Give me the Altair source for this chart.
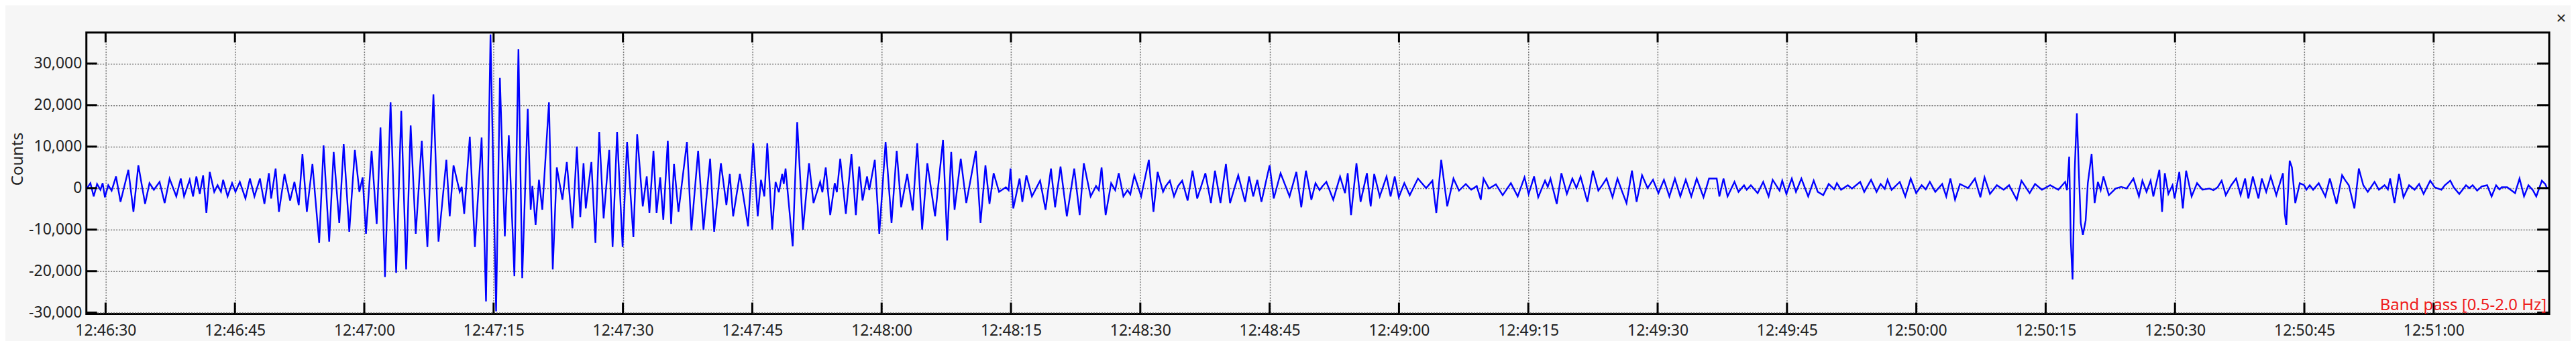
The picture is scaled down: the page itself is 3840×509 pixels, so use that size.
import altair as alt
import pandas as pd

# ---- waveform extremes: seconds after 12:46:30, counts ----
TIME_S = [
    -2.23, -2.15, -1.76, -1.38, -0.99, -0.6, -0.34, -0.08, 0.31, 0.70, 1.21, 1.73, 2.64, 3.23, 3.80, 4.58,
    5.09, 5.6, 6.26, 6.85, 7.42, 8.2, 8.72, 9.1, 9.75, 10.14, 10.53, 10.92, 11.31, 11.69, 12.08, 12.6,
    12.99, 13.38, 13.63, 14.15, 14.67, 15.06, 15.57, 16.22, 16.74, 17.26, 17.9, 18.42, 18.94, 19.2, 19.72,
    20.1, 20.75, 21.4, 21.9, 22.4,
    22.83, 23.34, 23.99, 24.77, 25.28, 25.93, 26.45, 27.10, 27.61, 28.26, 28.91, 29.43, 29.81, 30.2, 30.85,
    31.44, 31.88, 32.4, 33.05, 33.7, 34.29, 34.86, 35.38, 35.97, 36.67, 37.32, 38.02, 38.61, 39.52, 39.91,
    40.35, 41.07, 41.3, 41.59, 42.24, 42.83, 43.61, 44.12, 44.64, 45.29, 45.73, 46.3, 46.76, 47.41, 47.88,
    48.32, 48.96, 49.3, 49.5, 49.87, 50.26, 50.65, 51.42, 51.86, 52.33, 52.98, 53.49, 54.14, 54.66, 55.05,
    55.43, 55.69, 56.34, 56.81, 57.25, 57.76, 58.41, 58.8, 59.32, 59.96, 60.48,
    61.21, 61.65, 62.3, 62.76, 63.07, 63.54, 63.9, 64.32, 64.68, 65.2, 65.59, 65.92, 66.44, 67.42, 67.94,
    68.72, 69.34, 70.11, 70.58, 71.36, 72.0, 72.39, 72.78, 73.56, 74.51, 75.11, 75.63, 76.01, 76.4, 76.74,
    77.31, 77.7, 78.08, 78.47, 78.65, 78.86, 79.69, 80.21, 80.88, 81.58, 82.1, 82.87, 83.13, 83.52, 84.04,
    84.56, 84.81, 85.2, 85.85, 86.5, 87.01, 87.4, 87.79, 88.31, 88.57, 89.21, 89.73, 90.46, 91.15, 91.75,
    92.27, 92.97, 93.61, 94.13, 94.7, 95.3, 96.2,
    97.12, 97.6, 98.07, 98.46, 99.18, 99.82, 100.93, 101.47, 102.04, 102.51, 102.99, 103.62, 104.41, 104.73,
    104.95, 105.27, 106.0, 106.32, 106.79, 107.43, 108.38, 109.01, 109.64, 110.12, 110.75, 111.48, 112.34,
    112.97, 113.45, 114.24, 114.87, 115.19, 115.51, 115.98, 116.62, 117.09, 117.5, 118.04, 118.52, 118.84,
    119.31, 120.1, 120.99, 121.53, 122.01, 122.64, 122.96, 123.43, 123.91, 124.38, 124.86, 125.49, 126.06,
    126.6, 127.55, 128.19, 128.66, 129.3, 129.93, 130.41, 131.36, 132.15, 132.62, 133.1, 133.57, 134.05,
    135.0, 135.48, 136.27,
    137.31, 138.1, 138.67, 139.21, 139.84, 140.32, 140.79, 141.11, 141.58, 142.38, 143.17, 143.74, 144.06,
    144.44, 145.07, 145.55, 146.28, 146.72, 147.13, 147.77, 148.56, 149.03, 149.51, 149.98, 150.62, 151.25,
    152.2, 153.15, 153.88, 154.33, 154.9, 155.6, 156.32, 156.96, 157.75, 158.38, 159.02, 159.49, 159.81,
    160.44, 161.24, 162.03, 162.98, 163.77, 164.56, 165.04, 165.67, 166.15, 166.94, 167.26, 167.57, 168.3,
    168.84, 169.47, 170.11, 170.58, 171.06, 171.85, 172.49, 173.12, 173.6, 174.07, 174.77, 175.34, 175.82,
    176.39, 177.02, 177.56, 178.19, 178.83, 179.46, 180.09, 180.73, 181.36, 182.0, 182.63, 183.26, 183.9,
    184.53, 185.32, 185.96,
    186.85, 187.16, 187.64, 188.11, 188.91, 189.38, 190.02, 190.33, 190.81, 191.6, 192.24, 192.87, 193.34,
    194.14, 194.45, 194.93, 195.56, 196.04, 196.67, 197.46, 198.1, 198.57, 199.21, 199.84, 200.48, 200.79,
    201.27, 202.06, 202.54, 203.49, 203.96, 204.75, 205.39, 205.86, 206.34, 206.66, 207.13, 208.08, 208.72,
    209.35, 209.98, 210.62, 211.09, 211.57, 212.2, 213.0, 213.47, 213.95, 214.49, 215.06, 216.01, 216.8,
    217.43, 217.91, 218.54, 219.34, 220.13, 220.76, 221.65, 222.19, 223.14, 223.77, 224.57, 225.52, 226.47,
    227.26, 227.48, 227.73, 227.92, 228.12, 228.37, 228.62, 228.84, 229.07, 229.32, 229.64, 229.89, 230.33,
    230.68, 231.06, 231.38, 231.7, 232.33, 233.12, 233.76, 234.39, 235.18, 235.82,
    236.22, 236.7, 237.17, 237.49, 238.19, 238.5, 238.82, 239.23, 239.71, 239.96, 240.5, 240.91, 241.29,
    241.93, 242.56, 243.19, 243.99, 244.46, 244.94, 245.41, 245.89, 246.52,
    247.09, 247.61, 248.13, 248.51, 249.03, 249.68, 250.07, 250.58, 251.1, 251.75, 252.52, 252.73, 252.91,
    253.3, 253.56, 253.95, 254.47, 254.98, 255.24, 255.63, 256.02, 256.67, 257.44, 257.96, 258.74, 259.38,
    259.77, 260.16, 260.81, 261.32, 261.84, 262.36, 263.14, 263.65, 264.3, 264.69, 264.95, 265.46, 265.98,
    266.5, 267.15, 267.79, 268.31, 268.83, 269.6, 270.12, 270.9, 271.29, 271.93, 272.32, 272.97, 273.75,
    274.13, 274.52, 275.04, 275.56, 276.2, 276.72, 277.24, 277.63, 277.89, 278.53, 279.44, 279.96, 280.48,
    280.99, 281.51, 281.9, 282.55, 282.93, 283.19,
]
COUNTS = [
    300, 0, 1200, -2000, 1000, -400, 1200, -2200, 700, -600, 2800, -3300, 4400, -5700, 5500, -3800,
    1200, -400, 1500, -3600, 2300, -2000, 2300, -2000, 2000, -2000, 2800, -1400, 3100, -6000, 3900, -900,
    700, -900, 2000, -2000, 1200, -900, 1500, -2500, 2300, -2000, 2300, -3800, 3600, -2500, 4700,
    -5700, 3400, -3000, 1500, -4100,
    8200, -5700, 5800, -13200, 10300, -12900, 8700, -8400, 10600, -10500, 9200, -900, 2600, -11000, 9000,
    -8600, 14600, -21400, 20700, -20400, 18600, -19600, 15100, -11000, 11400, -14200, 22600, -12900, 6800, -6800,
    5500, -900, 300, -6200, 12400, -14200, 12200, -27300, 37000, -29700, 26600, -11600, 12700, -21200, 33500,
    -21700, 19100, -5200, 500, -8900, 2000, -5200, 20700, -19600, 5000, -2800, 6300, -9700, 10000, -7000,
    6000, -4900, 6300, -13200, 13500, -7300, 9200, -14200, 13500, -14200, 11100,
    -11800, 13000, -4400, 2800, -6000, 9000, -6000, 2600, -7600, 11400, -8600, 5800, -5700, 11100, -10200,
    9000, -10000, 7100, -10500, 6000, -4100, 3400, -6800, 3400, -9200, 10800, -6800, 2000, -2000, 10800,
    -10000, 1500, -1000, 3400, 1000, 4700, -14000, 15900, -10000, 6000, -3600, 1500, -1000, 5000, -6500,
    1200, -1000, 7100, -6200, 8200, -6500, 5200, -3000, 2800, -500, 6800, -11000, 11100, -8400, 9000,
    -4600, 3400, -5400, 10800, -10000, 6000, -6800,
    11600, -12600, 8700, -5200, 7100, -3600, 9000, -8400, 5500, -3800, 3600, -900, 200, -500,
    4700, -4900, 2300, -3300, 3100, -2000, 1800, -5200, 4700, -4600, 5200, -6800, 4700,
    -6500, 6000, -2000, 500, -500, 5000, -6500, 1200, -500, 3600, -2000, -500, -1500,
    3100, -2000, 6800, -5700, 3900, -900, 500, 1800, -2000, 500, 1800, -3000, 4200,
    -2500, 3600, -3600, 4200, -3600, 5800, -3600, 3100, -3300, 2800, -2000, 2000, -3300,
    5500, -2500, 3600,
    -2000, 3900, -4600, 4200, -2800, 1200, -500, 400, 1500, -2800, 2800, -1200, 3600,
    -6500, 6000, -3300, 3600, -4400, 3400, -2000, 2800, -2000, 2800, -2200, 1200, -1700,
    2300, 0, 1800, -6000, 6800, -4400, 2300, -600, 1000, -400, 500, -2800, 2300,
    -100, 900, -1700, 1200, -2000, 2600, -1400, 2800, -2200, 1800, 300, 2300, -3800,
    3600, -1400, 2300, 0, 2800, -3300, 4200, -600, 800, 2300, -2200, 2300, -500,
    -3600, 4200, -3300, 3100, 0, 2000, -1200, 2000, -2000, 2300, -2000, 2000, -2000,
    2300, -2200, 2300,
    2300, -2000, 2300, -2000, 1500, -900, 700, -400, 700, -1200, 1500, -2000, 2000,
    -600, 1800, -1400, 2300, -900, 2300, -2000, 1800, -900, -1700, 1000, -300, 1200,
    -400, 700, -100, 1500, -900, 2000, -900, 1000, -200, 2000, -400, 1500, -2000,
    2300, -1200, 700, -300, 1500, -900, 1000, -2000, 2300, -2800, 1000, 0, 2300,
    -2200, 2600, -1400, 700, -400, 700, -2800, 1800, -1200, 1000, -400, 700, -400,
    1500, -500, 7600, -13000, -22000, 4400, 18000, 4400, -8400, -11300, -7800, 1200, 8200,
    -3600, 1500, -500, 2800, -1700, -100, 300, -100, 2300, -2000,
    1800, -900, 1800, -2000, 4400, -5700, 3600, -1400, 700, -2500, 3900, -4900, 4200,
    -2000, 1200, -400, -100, -500, 200, 1800, -1700, 700,
    2300, -1700, 2300, -2500, 2800, -2500, 2300, -900, 2800, -1700, 3600, -6200, -8900,
    6600, 5000, -3600, 1200, 700, -400, 700, -400, 1200, -2000, 2300, -3800, 3100,
    1800, 700, -4900, 4700, 700, -900, 1500, -400, 700, -300, 2300, -3600, 3400,
    -2200, 700, -400, 1000, -1400, 1800, 200, -400, 700, 1800, 200, -1400, 700,
    0, 700, -600, 400, 700, -2000, 700, -300, 200, 200, -1200, 2300, -2000,
    700, -500, -2000, 1800, 1000, -200,
]

X_TICK_SECONDS = list(range(0, 271, 15))
X_TICK_LABELS = [
    "12:46:30", "12:46:45", "12:47:00", "12:47:15", "12:47:30", "12:47:45", "12:48:00",
    "12:48:15", "12:48:30", "12:48:45", "12:49:00", "12:49:15", "12:49:30", "12:49:45",
    "12:50:00", "12:50:15", "12:50:30", "12:50:45", "12:51:00",
]
Y_TICKS = [-30000, -20000, -10000, 0, 10000, 20000, 30000]
FILTER_LABEL = ["Band pass [0.5-2.0 Hz]"]
CLOSE_LABEL = ["\u00d7"]

X_DOMAIN = [-2.23, 283.4]
Y_DOMAIN = [-30300, 37500]

W, H = 3679, 421
FONT = "Noto Sans"
TXT = "#222222"
GRID = "#7a7a7a"

wave = pd.DataFrame({"t": TIME_S, "v": COUNTS})
xt = pd.DataFrame({"t": X_TICK_SECONDS})
yt = pd.DataFrame({"v": Y_TICKS})

x_label_expr = "[" + ",".join("'%s'" % s for s in X_TICK_LABELS) + "][round(datum.value / 15)]"
y_label_expr = "(datum.value < 0 ? '-' : '') + format(abs(datum.value), ',')"

x_enc = alt.X(
    "t:Q",
    scale=alt.Scale(domain=X_DOMAIN, nice=False, zero=False),
    axis=alt.Axis(
        values=X_TICK_SECONDS, labelExpr=x_label_expr, title=None,
        grid=True, gridDash=[2, 2], gridColor=GRID, gridWidth=1.5,
        ticks=False, tickSize=0, domain=False, labelPadding=14, labelFlush=False,
        labelFont=FONT, labelFontSize=23, labelColor=TXT, labelOverlap=False,
    ),
)
y_enc = alt.Y(
    "v:Q",
    scale=alt.Scale(domain=Y_DOMAIN, nice=False, zero=False),
    axis=alt.Axis(
        values=Y_TICKS, labelExpr=y_label_expr, title="Counts",
        grid=True, gridDash=[2, 2], gridColor=GRID, gridWidth=1.5,
        ticks=False, tickSize=0, domain=False, labelPadding=7, labelFlush=False,
        labelFont=FONT, labelFontSize=23, labelColor=TXT, labelOverlap=False,
        titleFont=FONT, titleFontSize=24, titleFontWeight="normal", titleColor=TXT,
        titleAngle=270, titleAlign="center", titleBaseline="alphabetic", titleX=-95, titleY=189,
    ),
)

line = alt.Chart(wave).mark_line(color="#0000ff", strokeWidth=2.4, clip=True).encode(x=x_enc, y=y_enc)

tick_style = dict(color="black", strokeWidth=3)
xt_bottom = alt.Chart(xt).mark_rule(**tick_style).encode(x="t:Q", y=alt.value(H), y2=alt.value(H - 17))
xt_top = alt.Chart(xt).mark_rule(**tick_style).encode(x="t:Q", y=alt.value(0), y2=alt.value(15))
yt_left = alt.Chart(yt).mark_rule(**tick_style).encode(y="v:Q", x=alt.value(0), x2=alt.value(16))
yt_right = alt.Chart(yt).mark_rule(**tick_style).encode(y="v:Q", x=alt.value(W), x2=alt.value(W - 18))

filt = alt.Chart(pd.DataFrame({"label": FILTER_LABEL})).mark_text(
    align="right", baseline="alphabetic", color="#ee1c1c", font=FONT, fontSize=24
).encode(x=alt.value(W - 4), y=alt.value(415), text="label:N")

close = alt.Chart(pd.DataFrame({"label": CLOSE_LABEL})).mark_text(
    align="center", baseline="middle", color=TXT, font=FONT, fontSize=26
).encode(x=alt.value(W + 18), y=alt.value(-20), text="label:N")

chart = (
    alt.layer(line, xt_bottom, xt_top, yt_left, yt_right, filt, close)
    .properties(
        width=W, height=H,
        autosize=alt.AutoSizeParams(type="none"),
        padding={"left": 121, "top": 40, "right": 32, "bottom": 40},
        background="#f6f6f6",
    )
    .configure_view(stroke="black", strokeWidth=3, fill="#f6f6f6")
)

chart.save("out.html", embed_options={"renderer": "svg", "actions": False})
